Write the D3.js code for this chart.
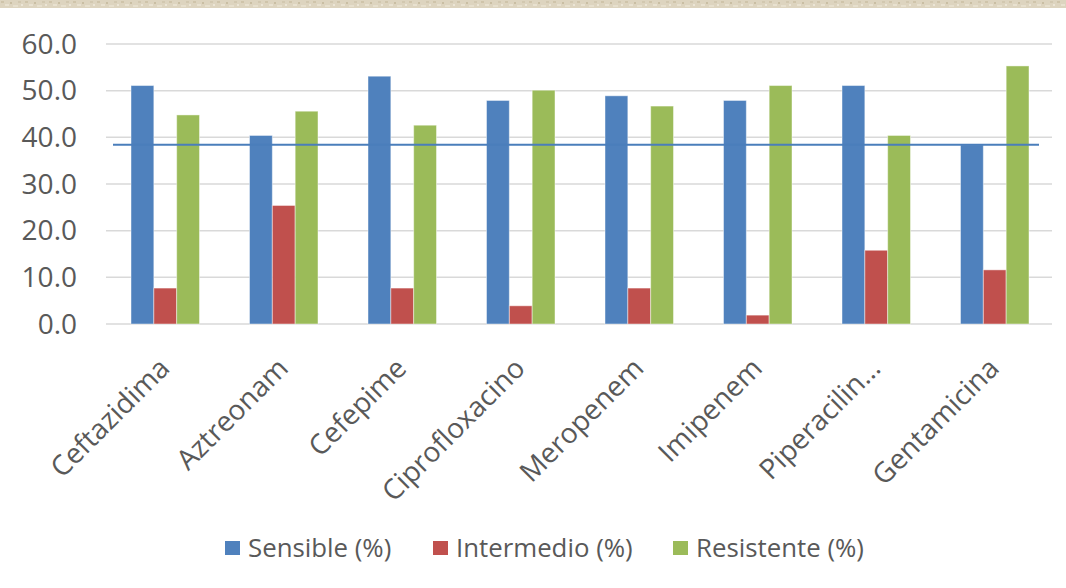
<!DOCTYPE html>
<html>
<head>
<meta charset="utf-8">
<script src="https://cdn.jsdelivr.net/npm/d3@7"></script>
<style>
  html, body { margin: 0; padding: 0; background: #ffffff; }
  svg { display: block; }
</style>
</head>
<body>
<svg id="chart" width="1066" height="588"></svg>
<script>
const categories = ["Ceftazidima", "Aztreonam", "Cefepime", "Ciprofloxacino", "Meropenem", "Imipenem", "Piperacilin…", "Gentamicina"];
const seriesNames = ["Sensible (%)", "Intermedio (%)", "Resistente (%)"];
const sensible    = [51.1, 40.4, 53.1, 47.9, 48.9, 47.9, 51.1, 38.4];
const intermedio  = [7.7, 25.4, 7.7, 3.9, 7.7, 1.9, 15.8, 11.6];
const resistente  = [44.8, 45.6, 42.6, 50.1, 46.7, 51.1, 40.4, 55.3];
const referenceValue = 38.4;
const yTicks = [0, 10, 20, 30, 40, 50, 60];
const colors = ["#4F81BD", "#C0504D", "#9BBB59"];

(function () {
const seriesValues = [sensible, intermedio, resistente];
const svg = d3.select("#chart");
const font = "'Open Sans', sans-serif";

// top textured strip
const defs = svg.append("defs");
const pat = defs.append("pattern").attr("id", "tex").attr("width", 24).attr("height", 8)
  .attr("patternUnits", "userSpaceOnUse");
pat.append("rect").attr("width", 24).attr("height", 8).attr("fill", "#ddd4bf");
const marks = [[1,1,3,"#cfc4aa"],[5,4,4,"#e8e1d0"],[10,2,2,"#c9bea3"],[13,5,5,"#e6dfcd"],[18,1,3,"#d2c8b0"],[21,4,2,"#ebe5d6"]];
marks.forEach(m => pat.append("rect").attr("x", m[0]).attr("y", m[1]).attr("width", m[2]).attr("height", 2).attr("fill", m[3]));
svg.append("rect").attr("x", 0).attr("y", 0).attr("width", 1066).attr("height", 8).attr("fill", "url(#tex)");

const pLeft = 106, pRight = 1052, pTop = 44, pBottom = 324;
const y = d3.scaleLinear().domain([0, 60]).range([pBottom, pTop]);
const x0 = d3.scaleBand().domain(categories).range([pLeft, pRight + 2]).padding(0);
const groupW = 68.5;
const x1 = d3.scaleBand().domain(seriesNames).range([0, groupW]).padding(0);
const groupOff = (x0.bandwidth() - groupW) / 2;

// gridlines
svg.append("g").selectAll("line").data(yTicks).join("line")
  .attr("x1", pLeft).attr("x2", pRight)
  .attr("y1", d => y(d)).attr("y2", d => y(d))
  .attr("stroke", "#d9d9d9").attr("stroke-width", 1.5);

// y labels
const yAxis = d3.axisLeft(y).tickValues(yTicks).tickFormat(d3.format(".1f")).tickSize(0).tickPadding(0);
const gy = svg.append("g").attr("transform", "translate(77,0)").call(yAxis);
gy.select(".domain").remove();
gy.selectAll("text").attr("font-family", font).attr("font-size", 28).attr("fill", "#595959").attr("dy", "0.33em");

// bars
const groups = svg.append("g").selectAll("g").data(categories).join("g")
  .attr("transform", c => `translate(${x0(c) + groupOff},0)`);
groups.selectAll("rect").data((c, i) => seriesNames.map((s, k) => ({ s, k, v: seriesValues[k][i] })))
  .join("rect")
  .attr("x", d => x1(d.s))
  .attr("width", x1.bandwidth())
  .attr("y", d => y(d.v))
  .attr("height", d => y(0) - y(d.v))
  .attr("fill", d => colors[d.k])
  .attr("stroke", "#ffffff").attr("stroke-opacity", 0.45).attr("stroke-width", 1);

// reference line
svg.append("line")
  .attr("x1", 113).attr("x2", 1039)
  .attr("y1", y(referenceValue)).attr("y2", y(referenceValue))
  .attr("stroke", "#4A7EBB").attr("stroke-width", 2);

// x labels
svg.append("g").selectAll("text").data(categories).join("text")
  .attr("transform", c => `translate(${x0(c) + x0.bandwidth() / 2 + 6},370) rotate(-45)`)
  .attr("text-anchor", "end")
  .attr("font-family", font).attr("font-size", 28).attr("fill", "#595959")
  .text(c => c);

// legend
const legendX = [225, 433, 673];
const lg = svg.append("g").selectAll("g").data(seriesNames).join("g")
  .attr("transform", (s, i) => `translate(${legendX[i]},548)`);
lg.append("rect").attr("x", 0).attr("y", -7).attr("width", 15).attr("height", 14).attr("fill", (s, i) => colors[i]);
lg.append("text").attr("x", 23).attr("dy", "0.36em")
  .attr("font-family", font).attr("font-size", 25.8).attr("fill", "#595959")
  .text(s => s);
})();
</script>
</body>
</html>
